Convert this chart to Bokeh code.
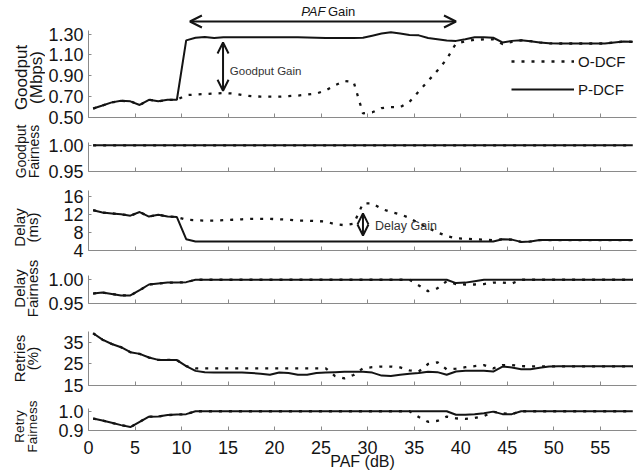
import math
from bokeh.plotting import figure
from bokeh.layouts import column, row
from bokeh.models import (Range1d, FixedTicker, Legend, LegendItem, Arrow, OpenHead,
                          Label, NumeralTickFormatter, CustomJSTickFormatter)
from bokeh.core.properties import value
from bokeh.embed import file_html
from bokeh.resources import INLINE

FONT = "Liberation Sans"
INK = "#141414"
AXIS = "#8a8a8a"

# ---------------- data ----------------
paf_db = [0.5, 1.5, 2.5, 3.5, 4.5, 5.5, 6.5, 7.5, 8.5, 9.5,
          10.5, 11.5, 12.5, 13.5, 14.5, 15.5, 16.5, 17.5, 18.5, 19.5,
          20.5, 21.5, 22.5, 23.5, 24.5, 25.5, 26.5, 27.5, 28.5, 29.5,
          30.5, 31.5, 32.5, 33.5, 34.5, 35.5, 36.5, 37.5, 38.5, 39.5,
          40.5, 41.5, 42.5, 43.5, 44.5, 45.5, 46.5, 47.5, 48.5, 49.5,
          50.5, 51.5, 52.5, 53.5, 54.5, 55.5, 56.5, 57.5, 58.5]
x_ticks = [0, 5, 10, 15, 20, 25, 30, 35, 40, 45, 50, 55]

goodput_p = [0.586, 0.615, 0.645, 0.660, 0.655, 0.620, 0.670, 0.655, 0.670, 0.670,
             1.240, 1.265, 1.272, 1.262, 1.270, 1.270, 1.270, 1.270, 1.270, 1.270,
             1.270, 1.270, 1.270, 1.268, 1.265, 1.262, 1.262, 1.262, 1.262, 1.265,
             1.285, 1.305, 1.318, 1.305, 1.292, 1.288, 1.262, 1.250, 1.238, 1.235,
             1.250, 1.270, 1.270, 1.265, 1.220, 1.235, 1.240, 1.232, 1.220, 1.212,
             1.210, 1.210, 1.210, 1.210, 1.210, 1.210, 1.220, 1.228, 1.226]
goodput_o = [0.586, 0.615, 0.645, 0.660, 0.655, 0.620, 0.670, 0.655, 0.670, 0.670,
             0.715, 0.720, 0.725, 0.730, 0.735, 0.730, 0.715, 0.705, 0.700, 0.700,
             0.700, 0.705, 0.710, 0.720, 0.730, 0.760, 0.810, 0.850, 0.840, 0.540,
             0.550, 0.590, 0.600, 0.600, 0.650, 0.750, 0.850, 0.950, 1.060, 1.210,
             1.230, 1.245, 1.250, 1.250, 1.205, 1.225, 1.240, 1.232, 1.220, 1.212,
             1.210, 1.210, 1.210, 1.210, 1.210, 1.210, 1.220, 1.228, 1.226]
goodput_ticks = [0.50, 0.70, 0.90, 1.10, 1.30]

gfair_p = [1.0] * 59
gfair_o = [1.0] * 59
gfair_ticks = [0.95, 1.00]

delay_p = [12.9, 12.4, 12.2, 12.0, 11.7, 12.5, 11.5, 11.9, 11.5, 11.4,
           6.5, 6.0, 6.0, 6.0, 6.0, 6.0, 6.0, 6.0, 6.0, 6.0,
           6.0, 6.0, 6.0, 6.0, 6.0, 6.0, 6.0, 6.0, 6.0, 6.0,
           6.0, 6.0, 6.0, 6.0, 6.0, 6.0, 6.0, 6.0, 6.0, 6.0,
           6.0, 6.0, 6.0, 6.0, 6.5, 6.4, 5.9, 6.0, 6.3, 6.3,
           6.3, 6.3, 6.3, 6.3, 6.3, 6.3, 6.3, 6.3, 6.3]
delay_o = [12.9, 12.4, 12.2, 12.0, 11.7, 12.5, 11.5, 11.9, 11.5, 11.4,
           10.8, 10.7, 10.6, 10.6, 10.7, 10.8, 10.9, 11.0, 11.0, 11.0,
           10.9, 10.8, 10.6, 10.6, 10.5, 10.4, 9.8, 9.6, 9.9, 14.4,
           14.4, 13.2, 12.5, 12.0, 11.2, 10.0, 9.0, 8.0, 7.2, 6.7,
           6.6, 6.5, 6.4, 6.3, 6.5, 6.4, 5.9, 6.0, 6.3, 6.3,
           6.3, 6.3, 6.3, 6.3, 6.3, 6.3, 6.3, 6.3, 6.3]
delay_ticks = [4, 8, 12, 16]

dfair_p = [0.971, 0.973, 0.970, 0.967, 0.967, 0.978, 0.990, 0.992, 0.994, 0.994,
           0.995, 1.0, 1.0, 1.0, 1.0, 1.0, 1.0, 1.0, 1.0, 1.0,
           1.0, 1.0, 1.0, 1.0, 1.0, 1.0, 1.0, 1.0, 1.0, 1.0,
           1.0, 1.0, 1.0, 1.0, 1.0, 1.0, 1.0, 1.0, 1.0, 0.993,
           0.994, 0.997, 1.0, 1.0, 1.0, 1.0, 1.0, 1.0, 1.0, 1.0,
           1.0, 1.0, 1.0, 1.0, 1.0, 1.0, 1.0, 1.0, 1.0]
dfair_o = [0.971, 0.973, 0.970, 0.967, 0.967, 0.978, 0.990, 0.992, 0.994, 0.994,
           0.995, 1.0, 1.0, 1.0, 1.0, 1.0, 1.0, 1.0, 1.0, 1.0,
           1.0, 1.0, 1.0, 1.0, 1.0, 1.0, 1.0, 1.0, 1.0, 1.0,
           1.0, 1.0, 1.0, 1.0, 1.0, 0.988, 0.976, 0.982, 0.997, 0.991,
           0.990, 0.990, 0.991, 0.994, 0.994, 0.992, 1.0, 1.0, 1.0, 1.0,
           1.0, 1.0, 1.0, 1.0, 1.0, 1.0, 1.0, 1.0, 1.0]
dfair_ticks = [0.95, 1.00]

retries_p = [39.3, 36.3, 34.3, 32.8, 30.5, 29.7, 28.0, 26.9, 26.9, 26.8,
             24.0, 21.8, 21.2, 21.0, 21.0, 21.0, 21.0, 20.8, 20.5, 20.0,
             21.0, 20.8, 20.0, 20.0, 20.8, 21.0, 21.2, 21.4, 21.4, 21.4,
             21.0, 19.6, 19.4, 20.0, 20.5, 20.8, 21.4, 21.2, 20.0, 21.5,
             21.8, 21.9, 21.9, 21.5, 23.8, 23.4, 22.6, 22.6, 23.2, 23.8,
             23.9, 23.9, 23.9, 23.9, 23.9, 23.9, 23.9, 23.9, 23.9]
retries_o = [39.3, 36.3, 34.3, 32.8, 30.5, 29.7, 28.0, 26.9, 26.9, 26.8,
             24.0, 23.0, 23.0, 23.0, 23.0, 23.0, 23.0, 23.0, 23.0, 23.0,
             23.0, 23.0, 23.0, 23.0, 23.0, 23.0, 19.4, 18.3, 19.9, 23.0,
             23.5, 23.8, 23.8, 23.4, 22.0, 21.5, 25.0, 25.8, 22.5, 22.8,
             23.5, 24.0, 24.5, 23.0, 24.5, 24.5, 24.0, 23.9, 23.9, 23.9,
             23.9, 23.9, 23.9, 23.9, 23.9, 23.9, 23.9, 23.9, 23.9]
retries_ticks = [15, 25, 35]

rfair_p = [0.962, 0.952, 0.940, 0.928, 0.918, 0.945, 0.972, 0.973, 0.980, 0.983,
           0.985, 1.0, 1.0, 1.0, 1.0, 1.0, 1.0, 1.0, 1.0, 1.0,
           1.0, 1.0, 1.0, 1.0, 1.0, 1.0, 1.0, 1.0, 1.0, 1.0,
           1.0, 1.0, 1.0, 1.0, 1.0, 1.0, 1.0, 1.0, 1.0, 0.982,
           0.982, 0.985, 0.990, 0.998, 0.985, 0.985, 1.0, 1.0, 1.0, 1.0,
           1.0, 1.0, 1.0, 1.0, 1.0, 1.0, 1.0, 1.0, 1.0]
rfair_o = [0.962, 0.952, 0.940, 0.928, 0.918, 0.945, 0.972, 0.973, 0.980, 0.983,
           0.985, 1.0, 1.0, 1.0, 1.0, 1.0, 1.0, 1.0, 1.0, 1.0,
           1.0, 1.0, 1.0, 1.0, 1.0, 1.0, 1.0, 1.0, 1.0, 1.0,
           1.0, 1.0, 1.0, 1.0, 1.0, 0.970, 0.945, 0.950, 0.972, 0.963,
           0.960, 0.965, 0.975, 0.997, 0.990, 0.985, 1.0, 1.0, 1.0, 1.0,
           1.0, 1.0, 1.0, 1.0, 1.0, 1.0, 1.0, 1.0, 1.0]
rfair_ticks = [0.9, 1.0]

# y-axis titles (two lines each)
title_line1 = ["Goodput", "Goodput", "Delay", "Delay", "Retries", "Retry"]
title_line2 = ["(Mbps)", "Fairness", "(ms)", "Fairness", "(%)", "Fairness"]

PANEL_W = 599
LABEL_W = 45
TOTAL_H = 472


def panel(height, top, bottom, yr, ticks, fmt, series_o, series_p,
          bounds=None, last=False):
    p = figure(width=PANEL_W, height=height, x_range=Range1d(0, 58.9),
               y_range=Range1d(*yr), output_backend="svg", toolbar_location=None,
               min_border_left=42, min_border_right=8,
               min_border_top=top, min_border_bottom=bottom)
    p.outline_line_color = None
    p.grid.visible = False
    p.background_fill_color = "white"
    p.border_fill_color = "white"
    for ax in (p.xaxis[0], p.yaxis[0]):
        ax.axis_line_color = AXIS
        ax.axis_line_width = 1
        ax.major_tick_line_color = AXIS
        ax.major_tick_in = 4
        ax.major_tick_out = 0
        ax.minor_tick_line_color = None
        ax.major_label_text_font = FONT
        ax.major_label_text_font_size = "18px"
        ax.major_label_text_color = INK
    p.xaxis.ticker = FixedTicker(ticks=x_ticks)
    p.yaxis.ticker = FixedTicker(ticks=ticks)
    p.yaxis.formatter = NumeralTickFormatter(format=fmt)
    p.yaxis.major_tick_in = 3
    p.yaxis.major_label_standoff = 5
    if bounds is not None:
        p.yaxis.bounds = bounds
    if last:
        p.xaxis.axis_label = "PAF (dB)"
        p.xaxis.axis_label_text_font = FONT
        p.xaxis.axis_label_text_font_size = "16px"
        p.xaxis.axis_label_text_font_style = "normal"
        p.xaxis.axis_label_text_color = INK
        p.xaxis.axis_label_standoff = -4
        p.xaxis.major_label_standoff = 10
    else:
        p.xaxis.formatter = CustomJSTickFormatter(code="return ''")
        p.xaxis.major_label_text_font_size = "1px"
        p.xaxis.major_label_standoff = 0
    ro = p.line(paf_db, series_o, line_color=INK, line_width=2.3, line_dash="3 7")
    rp = p.line(paf_db, series_p, line_color=INK, line_width=2)
    return p, ro, rp


p1, ro1, rp1 = panel(129, 0, 12, (0.5, 1.6223), goodput_ticks, "0.00",
                     goodput_o, goodput_p, bounds=(0.5, 1.332))
p2, _, _ = panel(53, 13, 11, (0.95, 1.0055), gfair_ticks, "0.00", gfair_o, gfair_p)
p3, _, _ = panel(80, 8, 12, (4, 17.26), delay_ticks, "0", delay_o, delay_p)
p4, _, _ = panel(55, 13, 14, (0.95, 1.009), dfair_ticks, "0.00", dfair_o, dfair_p)
p5, _, _ = panel(79, 14, 11, (15, 40.1), retries_ticks, "0", retries_o, retries_p)
p6, _, _ = panel(76, 12, 40, (0.9, 1.0143), rfair_ticks, "0.0", rfair_o, rfair_p,
                 last=True)

# legend
legend = Legend(items=[LegendItem(label="O-DCF", renderers=[ro1]),
                       LegendItem(label="P-DCF", renderers=[rp1])],
                location=(423, 18), glyph_width=63, glyph_height=20,
                label_standoff=4, spacing=8, padding=0, margin=0,
                border_line_color=None, background_fill_alpha=0,
                label_text_font=FONT, label_text_font_size="15px",
                label_text_color=INK)
p1.add_layout(legend)

# PAF gain arrow
p1.add_layout(Arrow(x_start=10.9, y_start=1.421, x_end=39.5, y_end=1.421,
                    start=OpenHead(size=12, line_width=2, line_color=INK),
                    end=OpenHead(size=12, line_width=2, line_color=INK),
                    line_width=2, line_color=INK))
p1.add_layout(Label(x=25.47, y=1.514, text="PAF", text_align="right",
                    text_baseline="middle", text_font=FONT, text_font_size="13px",
                    text_font_style="italic", text_color=INK))
p1.add_layout(Label(x=25.73, y=1.514, text="Gain", text_align="left",
                    text_baseline="middle", text_font=FONT, text_font_size="13px",
                    text_color=INK))

# Goodput gain arrow
p1.add_layout(Arrow(x_start=14.46, y_start=0.756, x_end=14.46, y_end=1.22,
                    start=OpenHead(size=11, line_width=2, line_color=INK),
                    end=OpenHead(size=11, line_width=2, line_color=INK),
                    line_width=2, line_color=INK))
p1.add_layout(Label(x=15.19, y=0.948, text="Goodput Gain", text_align="left",
                    text_baseline="middle", text_font=FONT, text_font_size="11.5px",
                    text_color="#333333"))

# Delay gain arrow
p3.add_layout(Arrow(x_start=29.5, y_start=7.3, x_end=29.5, y_end=12.2,
                    start=OpenHead(size=11, line_width=2, line_color=INK),
                    end=OpenHead(size=11, line_width=2, line_color=INK),
                    line_width=2, line_color=INK))
p3.add_layout(Label(x=30.8, y=9.52, text="Delay Gain", text_align="left",
                    text_baseline="middle", text_font=FONT, text_font_size="12.5px",
                    text_color="#333333"))

# left strip holding the rotated y-axis titles (pixel coordinates)
lab = figure(width=LABEL_W, height=TOTAL_H, x_range=Range1d(0, LABEL_W),
             y_range=Range1d(TOTAL_H, 0), output_backend="svg", toolbar_location=None,
             x_axis_type=None, y_axis_type=None,
             min_border_left=0, min_border_right=0, min_border_top=0, min_border_bottom=0)
lab.outline_line_color = None
lab.grid.visible = False
lab.border_fill_color = "white"
centers_y = [77, 151, 227, 288, 358, 426]
line1_x = [21, 20, 19, 19, 19, 19]
line2_x = [36, 33, 32, 32, 32, 32]
sizes = ["17px", "14px", "15px", "15px", "15px", "13.5px"]
for i in range(6):
    lab.text(x=[line1_x[i], line2_x[i]], y=[centers_y[i], centers_y[i]],
             text=[title_line1[i], title_line2[i]], angle=math.pi / 2,
             text_align="center", text_baseline="middle",
             text_font=value(FONT), text_font_size=sizes[i], text_color=INK)

layout = row(lab, column(p1, p2, p3, p4, p5, p6, spacing=0), spacing=0)
open("out.html", "w").write(file_html(layout, INLINE))
